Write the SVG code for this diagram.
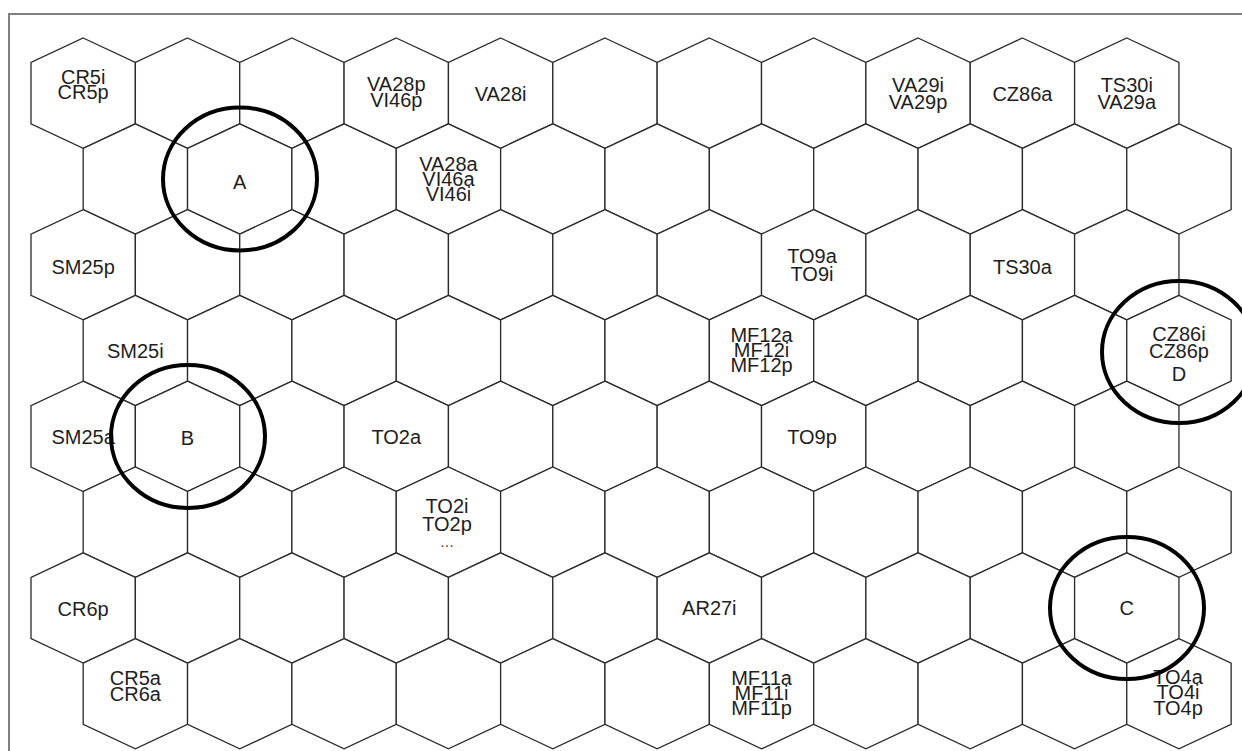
<svg xmlns="http://www.w3.org/2000/svg" xmlns:xlink="http://www.w3.org/1999/xlink" width="1242" height="751" viewBox="0 0 1242 751">
<style>
.hx{fill:#ffffff;stroke:#2a2a2a;stroke-width:1.3;stroke-linejoin:miter}
.t{font-family:"Liberation Sans",Arial,sans-serif;font-size:20px;fill:#1e1e1e;text-anchor:middle}
.dots{font-family:"Liberation Sans",Arial,sans-serif;font-size:16px;fill:#555;text-anchor:middle}
.ring{fill:none;stroke:#000;stroke-width:4}
.frame{fill:none;stroke:#808080;stroke-width:2}
</style>
<defs>
<polygon id="hex" class="hx" points="0,0 52.18,24.5 52.18,85.8 0,110.3 -52.18,85.8 -52.18,24.5"/>
</defs>
<rect x="0" y="0" width="1242" height="751" fill="#ffffff"/>
<path class="frame" d="M9,751 V14 H1242"/>
<g id="row0">
<g id="n0-0"><use xlink:href="#hex" x="83.18" y="38"/><text class="t" x="83.18" y="84">CR5i</text><text class="t" x="83.18" y="99">CR5p</text></g>
<g id="n0-1"><use xlink:href="#hex" x="187.54" y="38"/></g>
<g id="n0-2"><use xlink:href="#hex" x="291.90" y="38"/></g>
<g id="n0-3"><use xlink:href="#hex" x="396.26" y="38"/><text class="t" x="396.26" y="91">VA28p</text><text class="t" x="396.26" y="107">VI46p</text></g>
<g id="n0-4"><use xlink:href="#hex" x="500.62" y="38"/><text class="t" x="500.62" y="101">VA28i</text></g>
<g id="n0-5"><use xlink:href="#hex" x="604.98" y="38"/></g>
<g id="n0-6"><use xlink:href="#hex" x="709.34" y="38"/></g>
<g id="n0-7"><use xlink:href="#hex" x="813.70" y="38"/></g>
<g id="n0-8"><use xlink:href="#hex" x="918.06" y="38"/><text class="t" x="918.06" y="92">VA29i</text><text class="t" x="918.06" y="109">VA29p</text></g>
<g id="n0-9"><use xlink:href="#hex" x="1022.42" y="38"/><text class="t" x="1022.42" y="101">CZ86a</text></g>
<g id="n0-10"><use xlink:href="#hex" x="1126.78" y="38"/><text class="t" x="1126.78" y="92">TS30i</text><text class="t" x="1126.78" y="109">VA29a</text></g>
</g>
<g id="row1">
<g id="n1-0"><use xlink:href="#hex" x="135.36" y="123.8"/></g>
<g id="n1-1"><use xlink:href="#hex" x="239.72" y="123.8"/><text class="t" x="239.72" y="189">A</text></g>
<g id="n1-2"><use xlink:href="#hex" x="344.08" y="123.8"/></g>
<g id="n1-3"><use xlink:href="#hex" x="448.44" y="123.8"/><text class="t" x="448.44" y="171">VA28a</text><text class="t" x="448.44" y="186">VI46a</text><text class="t" x="448.44" y="201">VI46i</text></g>
<g id="n1-4"><use xlink:href="#hex" x="552.80" y="123.8"/></g>
<g id="n1-5"><use xlink:href="#hex" x="657.16" y="123.8"/></g>
<g id="n1-6"><use xlink:href="#hex" x="761.52" y="123.8"/></g>
<g id="n1-7"><use xlink:href="#hex" x="865.88" y="123.8"/></g>
<g id="n1-8"><use xlink:href="#hex" x="970.24" y="123.8"/></g>
<g id="n1-9"><use xlink:href="#hex" x="1074.60" y="123.8"/></g>
<g id="n1-10"><use xlink:href="#hex" x="1178.96" y="123.8"/></g>
</g>
<g id="row2">
<g id="n2-0"><use xlink:href="#hex" x="83.18" y="209.6"/><text class="t" x="83.18" y="274">SM25p</text></g>
<g id="n2-1"><use xlink:href="#hex" x="187.54" y="209.6"/></g>
<g id="n2-2"><use xlink:href="#hex" x="291.90" y="209.6"/></g>
<g id="n2-3"><use xlink:href="#hex" x="396.26" y="209.6"/></g>
<g id="n2-4"><use xlink:href="#hex" x="500.62" y="209.6"/></g>
<g id="n2-5"><use xlink:href="#hex" x="604.98" y="209.6"/></g>
<g id="n2-6"><use xlink:href="#hex" x="709.34" y="209.6"/></g>
<g id="n2-7"><use xlink:href="#hex" x="813.70" y="209.6"/><text class="t" x="812" y="263">TO9a</text><text class="t" x="812" y="281">TO9i</text></g>
<g id="n2-8"><use xlink:href="#hex" x="918.06" y="209.6"/></g>
<g id="n2-9"><use xlink:href="#hex" x="1022.42" y="209.6"/><text class="t" x="1022.42" y="274">TS30a</text></g>
<g id="n2-10"><use xlink:href="#hex" x="1126.78" y="209.6"/></g>
</g>
<g id="row3">
<g id="n3-0"><use xlink:href="#hex" x="135.36" y="295.4"/><text class="t" x="135.36" y="358">SM25i</text></g>
<g id="n3-1"><use xlink:href="#hex" x="239.72" y="295.4"/></g>
<g id="n3-2"><use xlink:href="#hex" x="344.08" y="295.4"/></g>
<g id="n3-3"><use xlink:href="#hex" x="448.44" y="295.4"/></g>
<g id="n3-4"><use xlink:href="#hex" x="552.80" y="295.4"/></g>
<g id="n3-5"><use xlink:href="#hex" x="657.16" y="295.4"/></g>
<g id="n3-6"><use xlink:href="#hex" x="761.52" y="295.4"/><text class="t" x="761.52" y="342">MF12a</text><text class="t" x="761.52" y="357">MF12i</text><text class="t" x="761.52" y="372">MF12p</text></g>
<g id="n3-7"><use xlink:href="#hex" x="865.88" y="295.4"/></g>
<g id="n3-8"><use xlink:href="#hex" x="970.24" y="295.4"/></g>
<g id="n3-9"><use xlink:href="#hex" x="1074.60" y="295.4"/></g>
<g id="n3-10"><use xlink:href="#hex" x="1178.96" y="295.4"/><text class="t" x="1178.96" y="341">CZ86i</text><text class="t" x="1178.96" y="358">CZ86p</text><text class="t" x="1178.96" y="381">D</text></g>
</g>
<g id="row4">
<g id="n4-0"><use xlink:href="#hex" x="83.18" y="381.2"/><text class="t" x="83.18" y="444">SM25a</text></g>
<g id="n4-1"><use xlink:href="#hex" x="187.54" y="381.2"/><text class="t" x="187.54" y="445">B</text></g>
<g id="n4-2"><use xlink:href="#hex" x="291.90" y="381.2"/></g>
<g id="n4-3"><use xlink:href="#hex" x="396.26" y="381.2"/><text class="t" x="396.26" y="444">TO2a</text></g>
<g id="n4-4"><use xlink:href="#hex" x="500.62" y="381.2"/></g>
<g id="n4-5"><use xlink:href="#hex" x="604.98" y="381.2"/></g>
<g id="n4-6"><use xlink:href="#hex" x="709.34" y="381.2"/></g>
<g id="n4-7"><use xlink:href="#hex" x="813.70" y="381.2"/><text class="t" x="812" y="444">TO9p</text></g>
<g id="n4-8"><use xlink:href="#hex" x="918.06" y="381.2"/></g>
<g id="n4-9"><use xlink:href="#hex" x="1022.42" y="381.2"/></g>
<g id="n4-10"><use xlink:href="#hex" x="1126.78" y="381.2"/></g>
</g>
<g id="row5">
<g id="n5-0"><use xlink:href="#hex" x="135.36" y="467"/></g>
<g id="n5-1"><use xlink:href="#hex" x="239.72" y="467"/></g>
<g id="n5-2"><use xlink:href="#hex" x="344.08" y="467"/></g>
<g id="n5-3"><use xlink:href="#hex" x="448.44" y="467"/><text class="t" x="447" y="513">TO2i</text><text class="t" x="447" y="531">TO2p</text><text class="dots" x="447" y="547">...</text></g>
<g id="n5-4"><use xlink:href="#hex" x="552.80" y="467"/></g>
<g id="n5-5"><use xlink:href="#hex" x="657.16" y="467"/></g>
<g id="n5-6"><use xlink:href="#hex" x="761.52" y="467"/></g>
<g id="n5-7"><use xlink:href="#hex" x="865.88" y="467"/></g>
<g id="n5-8"><use xlink:href="#hex" x="970.24" y="467"/></g>
<g id="n5-9"><use xlink:href="#hex" x="1074.60" y="467"/></g>
<g id="n5-10"><use xlink:href="#hex" x="1178.96" y="467"/></g>
</g>
<g id="row6">
<g id="n6-0"><use xlink:href="#hex" x="83.18" y="552.8"/><text class="t" x="83.18" y="616">CR6p</text></g>
<g id="n6-1"><use xlink:href="#hex" x="187.54" y="552.8"/></g>
<g id="n6-2"><use xlink:href="#hex" x="291.90" y="552.8"/></g>
<g id="n6-3"><use xlink:href="#hex" x="396.26" y="552.8"/></g>
<g id="n6-4"><use xlink:href="#hex" x="500.62" y="552.8"/></g>
<g id="n6-5"><use xlink:href="#hex" x="604.98" y="552.8"/></g>
<g id="n6-6"><use xlink:href="#hex" x="709.34" y="552.8"/><text class="t" x="709.34" y="615">AR27i</text></g>
<g id="n6-7"><use xlink:href="#hex" x="813.70" y="552.8"/></g>
<g id="n6-8"><use xlink:href="#hex" x="918.06" y="552.8"/></g>
<g id="n6-9"><use xlink:href="#hex" x="1022.42" y="552.8"/></g>
<g id="n6-10"><use xlink:href="#hex" x="1126.78" y="552.8"/><text class="t" x="1126.78" y="615">C</text></g>
</g>
<g id="row7">
<g id="n7-0"><use xlink:href="#hex" x="135.36" y="638.6"/><text class="t" x="135.36" y="685">CR5a</text><text class="t" x="135.36" y="701">CR6a</text></g>
<g id="n7-1"><use xlink:href="#hex" x="239.72" y="638.6"/></g>
<g id="n7-2"><use xlink:href="#hex" x="344.08" y="638.6"/></g>
<g id="n7-3"><use xlink:href="#hex" x="448.44" y="638.6"/></g>
<g id="n7-4"><use xlink:href="#hex" x="552.80" y="638.6"/></g>
<g id="n7-5"><use xlink:href="#hex" x="657.16" y="638.6"/></g>
<g id="n7-6"><use xlink:href="#hex" x="761.52" y="638.6"/><text class="t" x="761.52" y="685">MF11a</text><text class="t" x="761.52" y="700">MF11i</text><text class="t" x="761.52" y="715">MF11p</text></g>
<g id="n7-7"><use xlink:href="#hex" x="865.88" y="638.6"/></g>
<g id="n7-8"><use xlink:href="#hex" x="970.24" y="638.6"/></g>
<g id="n7-9"><use xlink:href="#hex" x="1074.60" y="638.6"/></g>
<g id="n7-10"><use xlink:href="#hex" x="1178.96" y="638.6"/><text class="t" x="1178" y="684">TO4a</text><text class="t" x="1178" y="699">TO4i</text><text class="t" x="1178" y="715">TO4p</text></g>
</g>
<g id="rings">
<ellipse id="ringA" class="ring" cx="240" cy="179" rx="77" ry="71.5"/>
<ellipse id="ringB" class="ring" cx="188" cy="436.5" rx="77" ry="71.5"/>
<ellipse id="ringD" class="ring" cx="1179" cy="352" rx="77" ry="71"/>
<ellipse id="ringC" class="ring" cx="1127" cy="608" rx="77" ry="71"/>
</g>
</svg>
